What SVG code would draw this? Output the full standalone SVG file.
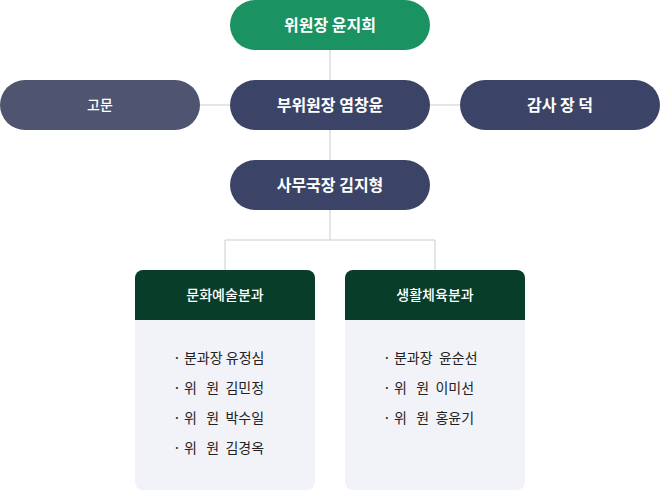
<svg xmlns="http://www.w3.org/2000/svg" width="660" height="490" viewBox="0 0 660 490">
<style>
text{font-family:"Noto Sans CJK KR","Noto Sans",sans-serif}
.pt{fill:#fff;font-size:16px;font-weight:700;text-anchor:middle}
.ht{fill:#fff;font-size:14px;font-weight:500;text-anchor:middle}
.it{fill:#222;font-size:14px}
.ln{stroke:#cccccc;stroke-width:1;fill:none}
</style>
<rect width="660" height="490" fill="#fff"/>
<g id="connectors">
<path class="ln" d="M330 50V160M200 105H230M430 105H460M330 210V240M225 240H435M225 240V270M435 240V270"/>
</g>
<g id="chair"><rect x="230" y="0" width="200" height="50" rx="25" fill="#1a9261"/><text class="pt" x="330" y="31">위원장 윤지희</text></g>
<g id="advisor"><rect x="0" y="80" width="200" height="50" rx="25" fill="#4f5470"/><text class="pt" x="100" y="110" style="font-size:14px;font-weight:500">고문</text></g>
<g id="vice"><rect x="230" y="80" width="200" height="50" rx="25" fill="#3b4466"/><text class="pt" x="330" y="111">부위원장 염창윤</text></g>
<g id="auditor"><rect x="460" y="80" width="200" height="50" rx="25" fill="#3b4466"/><text class="pt" x="560" y="111">감사 장 덕</text></g>
<g id="secretary"><rect x="230" y="160" width="200" height="50" rx="25" fill="#3b4466"/><text class="pt" x="330" y="191">사무국장 김지형</text></g>
<g id="culture">
<rect x="135" y="270" width="180" height="220" rx="8" fill="#f1f3f9"/>
<path d="M135 320V278a8 8 0 0 1 8-8H307a8 8 0 0 1 8 8V320Z" fill="#083d29"/>
<text class="ht" x="225" y="300">문화예술분과</text>
<text class="it" x="173" y="363">· 분과장  유정심</text>
<text class="it" x="173" y="393" xml:space="preserve">· 위   원  김민정</text>
<text class="it" x="173" y="423" xml:space="preserve">· 위   원  박수일</text>
<text class="it" x="173" y="453" xml:space="preserve">· 위   원  김경옥</text>
</g>
<g id="sports">
<rect x="345" y="270" width="180" height="220" rx="8" fill="#f1f3f9"/>
<path d="M345 320V278a8 8 0 0 1 8-8H517a8 8 0 0 1 8 8V320Z" fill="#083d29"/>
<text class="ht" x="435" y="300">생활체육분과</text>
<text class="it" x="383" y="363" xml:space="preserve">· 분과장  윤순선</text>
<text class="it" x="383" y="393" xml:space="preserve">· 위   원  이미선</text>
<text class="it" x="383" y="423" xml:space="preserve">· 위   원  홍윤기</text>
</g>
</svg>
